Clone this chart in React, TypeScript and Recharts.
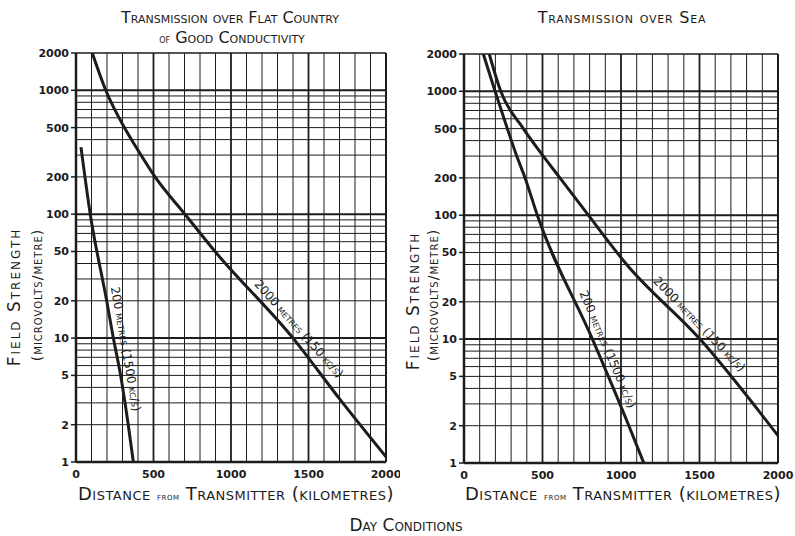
import React from 'react';
import { LineChart, Line, XAxis, YAxis, ReferenceLine, ReferenceDot } from 'recharts';

// axis ticks and grid rulings
const kmTicks = [0, 500, 1000, 1500, 2000];
const fieldTicks = [1, 2, 5, 10, 20, 50, 100, 200, 500, 1000, 2000];
const kmGrid = [100, 200, 300, 400, 500, 600, 700, 800, 900, 1000, 1100, 1200, 1300, 1400, 1500, 1600, 1700, 1800, 1900];
const kmHeavy = [500, 1000, 1500];
const fieldGrid = [2, 3, 4, 5, 6, 7, 8, 9, 20, 30, 40, 50, 60, 70, 80, 90, 200, 300, 400, 500, 600, 700, 800, 900];
const fieldHeavy = [10, 100, 1000];

// flat country of good conductivity
const land200Km = [32, 92, 198, 241, 288, 337, 370];
const land200Field = [348, 100, 20, 10, 5, 2, 1];
const land2000Km = [105, 192, 312, 392, 510, 703, 897, 1400, 1703, 2000];
const land2000Field = [2000, 1000, 500, 341, 200, 100, 50, 10, 3.2, 1.1];

// sea
const sea200Km = [123, 198, 276, 336, 389, 467, 818, 1050, 1145];
const sea200Field = [2000, 1000, 500, 300, 200, 100, 10, 2, 1];
const sea2000Km = [161, 234, 378, 505, 611, 792, 1036, 1503, 2000];
const sea2000Field = [2000, 1000, 500, 300, 200, 100, 40, 10, 1.66];

const toRows = (km: number[], field: number[]) => km.map((k, i) => ({ km: k, field: field[i] }));

const ink = '#1c1c1c';
const font = '"DejaVu Sans", sans-serif';
const tickStyle = { fontSize: 11, fill: ink, fontFamily: font, fontWeight: 700 };

type CurveLabel = { km: number; field: number; angle: number; text: string };

const landLabels: CurveLabel[] = [
  { km: 257, field: 7.9, angle: 80, text: '200 metres (1500 kc/s)' },
  { km: 1390, field: 10.5, angle: 48, text: '2000 metres (150 kc/s)' },
];
const seaLabels: CurveLabel[] = [
  { km: 856, field: 7.7, angle: 67, text: '200 metres (1500 kc/s)' },
  { km: 1453, field: 11.6, angle: 46, text: '2000 metres (150 kc/s)' },
];

// text sits beside its curve, pushed off perpendicular to the slope
function CurveText({ cx, cy, label }: { cx?: number; cy?: number; label: CurveLabel }) {
  if (cx == null || cy == null) return null;
  const rad = (label.angle * Math.PI) / 180;
  const gap = 10;
  const x = cx + gap * Math.sin(rad);
  const y = cy - gap * Math.cos(rad);
  return (
    <text
      x={x}
      y={y}
      textAnchor="middle"
      dominantBaseline="central"
      transform={`rotate(${label.angle} ${x} ${y})`}
      style={{ fontVariant: 'small-caps', fontFamily: font, fontSize: 12, fill: ink }}
    >
      {label.text}
    </text>
  );
}

interface PanelProps {
  left: number;
  width: number;
  margin: { top: number; right: number; bottom: number; left: number };
  series: { km: number; field: number }[][];
  labels: CurveLabel[];
}

function Panel({ left, width, margin, series, labels }: PanelProps) {
  return (
    <div style={{ position: 'absolute', left, top: 0 }}>
      <LineChart width={width} height={536} margin={margin}>
        <XAxis
          type="number"
          dataKey="km"
          domain={[0, 2000]}
          ticks={kmTicks}
          interval={0}
          allowDataOverflow
          axisLine={false}
          tickLine={false}
          height={20}
          tick={tickStyle}
        />
        <YAxis
          type="number"
          scale="log"
          domain={[1, 2000]}
          ticks={fieldTicks}
          interval={0}
          allowDataOverflow
          axisLine={false}
          tickLine={{ stroke: ink, strokeWidth: 1.5 }}
          tickSize={5}
          width={40}
          tick={tickStyle}
        />
        {kmGrid.map((v) => (
          <ReferenceLine key={'x' + v} x={v} stroke={ink} strokeWidth={kmHeavy.includes(v) ? 1.8 : 1} />
        ))}
        {fieldGrid.map((v) => (
          <ReferenceLine key={'y' + v} y={v} stroke={ink} strokeWidth={1} />
        ))}
        {fieldHeavy.map((v) => (
          <ReferenceLine key={'h' + v} y={v} stroke={ink} strokeWidth={2} />
        ))}
        <ReferenceLine x={0} stroke={ink} strokeWidth={2.5} />
        <ReferenceLine x={2000} stroke={ink} strokeWidth={2} />
        <ReferenceLine y={1} stroke={ink} strokeWidth={2.5} />
        <ReferenceLine y={2000} stroke={ink} strokeWidth={1.5} />
        {series.map((rows, i) => (
          <Line
            key={i}
            data={rows}
            dataKey="field"
            type="monotone"
            stroke={ink}
            strokeWidth={3}
            dot={false}
            isAnimationActive={false}
          />
        ))}
        {labels.map((l, i) => (
          <ReferenceDot
            key={'l' + i}
            x={l.km}
            y={l.field}
            r={0}
            shape={(p: any) => <CurveText cx={p.cx} cy={p.cy} label={l} />}
          />
        ))}
      </LineChart>
    </div>
  );
}

const caps = { fontVariant: 'small-caps' as const, fontFamily: font, fill: ink };

export default function App() {
  return (
    <div style={{ position: 'absolute', left: 0, top: 0, width: 795, height: 536, background: '#fff' }}>
      <Panel
        left={0}
        width={400}
        margin={{ top: 53, right: 14, bottom: 54, left: 36 }}
        series={[toRows(land200Km, land200Field), toRows(land2000Km, land2000Field)]}
        labels={landLabels}
      />
      <Panel
        left={400}
        width={395}
        margin={{ top: 54, right: 17, bottom: 53, left: 24 }}
        series={[toRows(sea200Km, sea200Field), toRows(sea2000Km, sea2000Field)]}
        labels={seaLabels}
      />
      <svg width={795} height={536} style={{ position: 'absolute', left: 0, top: 0, pointerEvents: 'none' }}>
        <text x={230} y={23} textAnchor="middle" fontSize={16} style={caps}>Transmission over Flat Country</text>
        <text x={232} y={43} textAnchor="middle" fontSize={16} style={caps}>
          <tspan fontSize={11}>of</tspan> Good Conductivity
        </text>
        <text x={622} y={23} textAnchor="middle" fontSize={16} letterSpacing={0.8} style={caps}>Transmission over Sea</text>

        <text transform="translate(20 297) rotate(-90)" textAnchor="middle" fontSize={17} letterSpacing={2} style={caps}>Field Strength</text>
        <text transform="translate(42 295) rotate(-90)" textAnchor="middle" fontSize={14} letterSpacing={1} style={caps}>(microvolts/metre)</text>
        <text transform="translate(419 301) rotate(-90)" textAnchor="middle" fontSize={17} letterSpacing={2} style={caps}>Field Strength</text>
        <text transform="translate(438 295) rotate(-90)" textAnchor="middle" fontSize={14} letterSpacing={1} style={caps}>(microvolts/metre)</text>

        <text x={236} y={500} textAnchor="middle" fontSize={18} letterSpacing={0.5} style={caps}>
          Distance <tspan fontSize={10}>from</tspan> Transmitter (kilometres)
        </text>
        <text x={623} y={500} textAnchor="middle" fontSize={18} letterSpacing={0.5} style={caps}>
          Distance <tspan fontSize={10}>from</tspan> Transmitter (kilometres)
        </text>
        <text x={406} y={531} textAnchor="middle" fontSize={17} style={caps}>Day Conditions</text>
      </svg>
    </div>
  );
}
